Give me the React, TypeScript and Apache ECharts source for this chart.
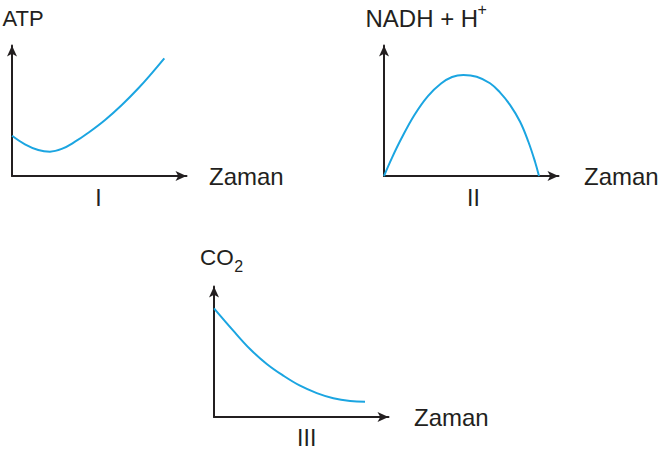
import React, { useEffect, useRef } from "react";
import * as echarts from "echarts";

// Axis titles and panel labels
const xTitle = "Zaman";
const panelNames = ["I", "II", "III"];
const yTitles = ["ATP", "NADH + H", "CO"];
const yTitleMarks = ["+", "2"]; // superscript of H, subscript of CO

// Panel I: ATP over time
const atpX = [0, 7.2, 14.6, 21.1, 27.6, 35, 42.4, 51.7, 61, 70.2, 77.6, 84.6];
const atpY = [29.6, 23.3, 19.1, 17.9, 19.9, 25.2, 31.8, 41.2, 52.2, 64.5, 75.5, 86.5];

// Panel II: NADH + H+ over time
const nadhX = [0, 4.3, 9.8, 16.9, 24.4, 31.7, 37.8, 44.1, 51.5, 58.9, 64.4, 70, 75.6, 80.2, 83.9, 86.1];
const nadhY = [0, 13, 27.9, 44.9, 58.8, 68, 72.8, 74.3, 73, 68.2, 61.5, 52.3, 39.9, 25.2, 10.5, 0];

// Panel III: CO2 over time
const co2X = [0, 10.7, 20, 29.3, 38.5, 47.8, 57.1, 66.3, 75.6, 83.9];
const co2Y = [79.9, 63.5, 50, 39, 30.4, 23, 17.6, 13.8, 11.8, 11.3];

const FAMILY = "'Liberation Sans', Arial, Helvetica, sans-serif";
const INK = "#231f20";
const CURVE = "#1ba5e1";

const zip = (xs: number[], ys: number[]) => xs.map((x, i) => [x, ys[i]]);

export default function App() {
  const ref = useRef<HTMLDivElement>(null);

  useEffect(() => {
    if (!ref.current) return;
    const chart = echarts.init(ref.current, null, { renderer: "svg" });

    const grids = [
      { left: 12, top: 45.5, width: 174.5, height: 130.5 },
      { left: 384, top: 45.5, width: 174.5, height: 130.5 },
      { left: 214, top: 286.5, width: 174.5, height: 130.5 },
    ];
    const nameGaps = [22.5, 25.5, 25.5];

    const axisLine = {
      show: true,
      onZero: false,
      symbol: ["none", "arrow"],
      symbolSize: [7.5, 11],
      lineStyle: { color: INK, width: 2 },
    };

    const xAxes = grids.map((_, i) => ({
      type: "value",
      gridIndex: i,
      min: 0,
      max: 96.94,
      axisLine,
      axisTick: { show: false },
      axisLabel: { show: false },
      splitLine: { show: false },
      name: xTitle,
      nameLocation: "end",
      nameGap: nameGaps[i],
      nameTextStyle: { fontSize: 24, color: INK, fontFamily: FAMILY, verticalAlign: "middle" },
    }));
    const yAxes = grids.map((_, i) => ({
      type: "value",
      gridIndex: i,
      min: 0,
      max: 95.96,
      axisLine,
      axisTick: { show: false },
      axisLabel: { show: false },
      splitLine: { show: false },
    }));

    const datasets = [zip(atpX, atpY), zip(nadhX, nadhY), zip(co2X, co2Y)];
    const series = datasets.map((d, i) => ({
      type: "line",
      xAxisIndex: i,
      yAxisIndex: i,
      data: d,
      smooth: 0.4,
      showSymbol: false,
      lineStyle: { color: CURVE, width: 2 },
    }));

    const txt = (x: number, y: number, text: string, size: number, align = "left", lineHeight?: number) => ({
      type: "text",
      x,
      y,
      silent: true,
      style: {
        text,
        fontSize: size,
        fontFamily: FAMILY,
        fill: INK,
        align,
        verticalAlign: "middle",
        lineHeight,
      },
    });

    chart.setOption({
      animation: false,
      backgroundColor: "#ffffff",
      grid: grids,
      xAxis: xAxes,
      yAxis: yAxes,
      series,
      graphic: [
        txt(2.5, 18.8, yTitles[0], 22),
        txt(365.5, 18.8, yTitles[1], 24),
        txt(477.5, 9, yTitleMarks[0], 16),
        txt(200, 257.8, yTitles[2], 22.5),
        txt(234.3, 266.3, yTitleMarks[1], 16),
        txt(98.5, 198, panelNames[0], 23, "center", 20),
        txt(473.5, 198, panelNames[1], 23, "center", 20),
        txt(306.7, 438, panelNames[2], 23, "center", 18),
      ],
    });

    return () => chart.dispose();
  }, []);

  return (
    <div
      ref={ref}
      style={{ position: "absolute", left: 0, top: 0, width: 660, height: 450, background: "#fff" }}
    />
  );
}
